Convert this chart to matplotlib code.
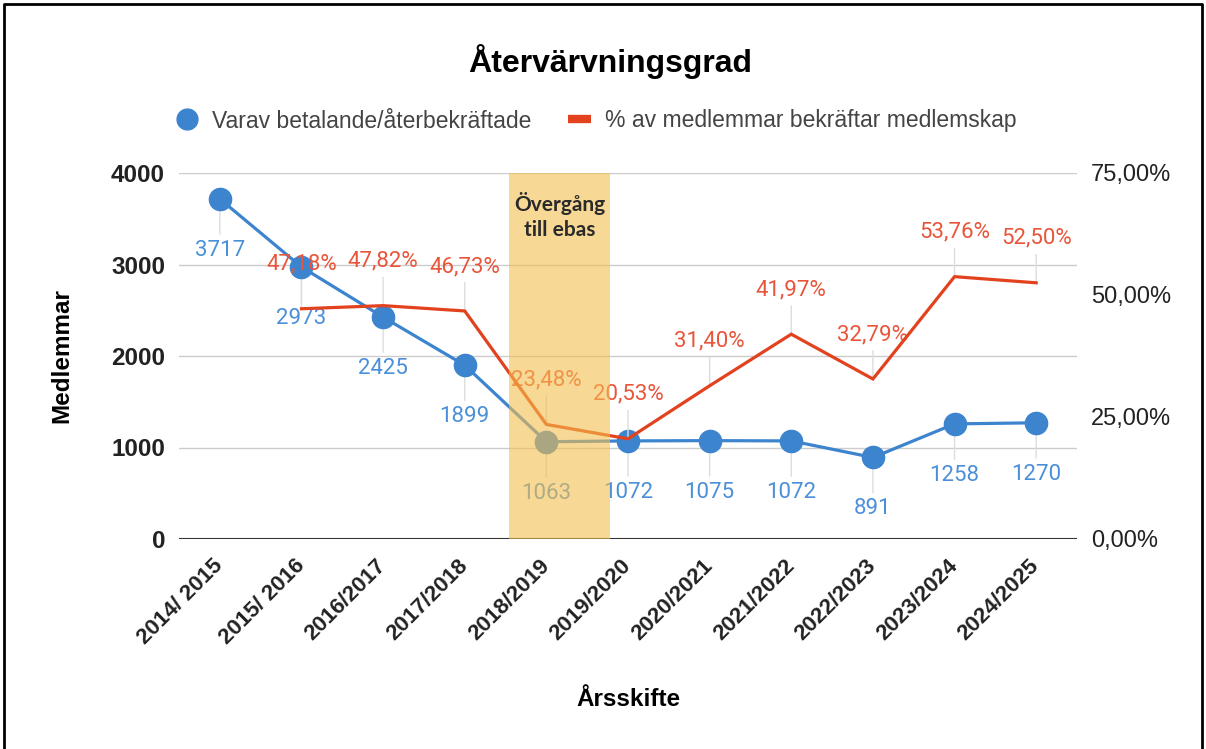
import numpy as np
import matplotlib.pyplot as plt
from matplotlib.lines import Line2D

# data
seasons = ['2014/ 2015', '2015/ 2016', '2016/2017', '2017/2018', '2018/2019', '2019/2020',
           '2020/2021', '2021/2022', '2022/2023', '2023/2024', '2024/2025']
members = [3717, 2973, 2425, 1899, 1063, 1072, 1075, 1072, 891, 1258, 1270]
pct_confirmed = [np.nan, 47.18, 47.82, 46.73, 23.48, 20.53, 31.40, 41.97, 32.79, 53.76, 52.50]
left_ticks = [0, 1000, 2000, 3000, 4000]
right_ticks = [0, 25, 50, 75]
band_label = 'Övergång\ntill ebas'

blue = '#3d84cf'
red = '#e2421d'
blue_txt = '#4a8fd8'
red_txt = '#e8553a'
band_color = '#f3be4e'
grid_color = '#cccccc'
label_font = 'Liberation Sans'
value_font = 'Roboto'

fig = plt.figure(figsize=(12.06, 7.49), dpi=100)
ax = fig.add_axes([179 / 1206, 1 - 539 / 749, 898 / 1206, 366 / 749])
ax2 = ax.twinx()

x = np.arange(len(seasons))
ax.set_xlim(-0.5, len(seasons) - 0.5)
ax.set_ylim(0, 4000)
ax2.set_ylim(0, 75)

# grid
for t in left_ticks[1:]:
    ax.axhline(t, color=grid_color, lw=1, zorder=0)
ax.axhline(0, color='#333333', lw=1.5, zorder=1)

# series
ax2.plot(x, pct_confirmed, color=red, lw=2.3, zorder=3, solid_joinstyle='miter')
ax.plot(x, members, color=blue, lw=2.3, marker='o', markersize=16, zorder=3)

# data labels with leader lines
for xi, v in zip(x, members):
    ax.annotate(str(v), xy=(xi, v), xytext=(0, -37), textcoords='offset points',
                ha='center', va='center', color=blue_txt, fontsize=16, family=value_font,
                arrowprops=dict(arrowstyle='-', color='#dddddd', lw=1, shrinkA=2, shrinkB=8),
                zorder=2)
for xi, v in zip(x, pct_confirmed):
    if np.isnan(v):
        continue
    ax2.annotate(f'{v:.2f}%'.replace('.', ','), xy=(xi, v), xytext=(0, 32), textcoords='offset points',
                 ha='center', va='center', color=red_txt, fontsize=16, family=value_font,
                 arrowprops=dict(arrowstyle='-', color='#dddddd', lw=1, shrinkA=2, shrinkB=0),
                 zorder=2)

# transition band drawn over the lines
ax2.axvspan(3.54, 4.78, color=band_color, alpha=0.6, lw=0, zorder=5)
ax2.text(4.16, 66.2, band_label, ha='center', va='center', fontsize=15, fontweight='bold',
         family='Lato', color='#2a2a2a', linespacing=1.3, zorder=6)

# axes styling
for a in (ax, ax2):
    for s in a.spines.values():
        s.set_visible(False)
ax.set_yticks(left_ticks)
ax.set_yticklabels([str(t) for t in left_ticks], fontsize=17.5, fontweight='bold', family=label_font)
ax2.set_yticks(right_ticks)
ax2.set_yticklabels([f'{t:.2f}%'.replace('.', ',') for t in right_ticks], fontsize=17,
                    family=label_font, color='#222222')
ax.tick_params(axis='y', length=0, pad=10, colors='#222222')
ax2.tick_params(axis='y', length=0, pad=10)
ax.set_xticks(x)
ax.set_xticklabels(seasons, rotation=45, ha='right', va='center', rotation_mode='anchor',
                   fontsize=16, fontweight='bold', family=label_font)
ax.tick_params(axis='x', length=0, pad=17, colors='#222222')

ax.set_ylabel('Medlemmar', fontsize=17.5, fontweight='bold', family=label_font, labelpad=0)
ax.yaxis.set_label_coords((73 - 179) / 898, 0.5)
fig.text(628 / 1206, 1 - 700 / 749, 'Årsskifte', ha='center', va='center', fontsize=17.5,
         fontweight='bold', family=label_font)

fig.text(610 / 1206, 1 - 62 / 749, 'Återvärvningsgrad', ha='center', va='center', fontsize=23,
         fontweight='bold', family=label_font)

handles = [Line2D([], [], color=blue, marker='o', markersize=15, lw=0),
           Line2D([], [], color=red, lw=6, solid_capstyle='butt')]
fig.legend(handles, ['Varav betalande/återbekräftade', '% av medlemmar bekräftar medlemskap'],
           loc='center', bbox_to_anchor=(596 / 1206, 1 - 121 / 749), ncol=2, frameon=False,
           prop={'family': label_font, 'size': 16.5}, labelcolor='#444444', handlelength=1.0,
           handletextpad=0.6, columnspacing=1.6)

# outer frame (left, top, right)
fig.add_artist(Line2D([4 / 1206, 4 / 1206, 1202 / 1206, 1202 / 1206], [0, 1 - 4 / 749, 1 - 4 / 749, 0],
                      color='black', lw=2))

fig.savefig('out.png', dpi=100)
